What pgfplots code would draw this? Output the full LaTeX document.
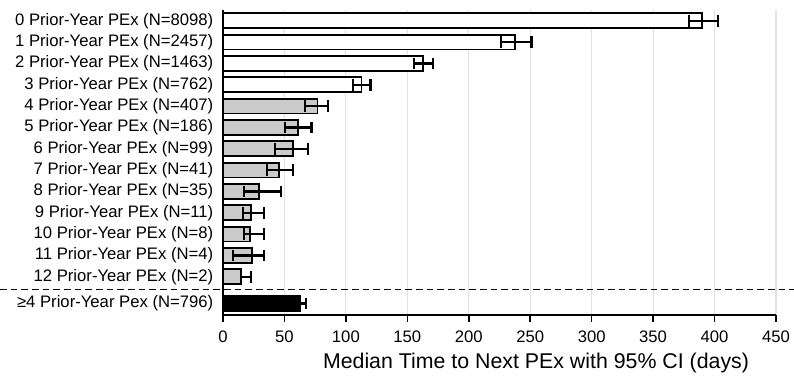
\documentclass[border=0pt]{standalone}
\usepackage{fontspec}
\setmainfont{Liberation Sans}
\usepackage{pgfplots}
\pgfplotsset{compat=1.18}
\definecolor{bargray}{RGB}{202,202,202}
\definecolor{gridgray}{RGB}{225,225,225}
\pgfplotsset{
  ebk/.style={error bars/.cd, x explicit,
    error bar style={line width=1.6pt, black, solid},
    error mark=|,
    error mark options={line width=1.6pt, black, solid, mark size=4.3pt}},
  ebw/.style={error bars/.cd, x explicit,
    error bar style={line width=1.6pt, white, solid},
    error mark=|,
    error mark options={line width=1.6pt, white, solid, mark size=4.3pt}},
}
\begin{document}
\begin{tikzpicture}
\useasboundingbox (-167.25pt,-51.75pt) rectangle (428.25pt,236.25pt);
\begin{axis}[
  scale only axis,
  width=414.75pt, height=228.75pt,
  xmin=0, xmax=450,
  ymin=-0.506, ymax=13.79,
  y dir=reverse,
  axis x line*=bottom, axis y line*=left,
  axis line style={line width=1.4pt},
  xtick={0,50,...,450},
  ytick={0,1,2,3,4,5,6,7,8,9,10,11,12,13.25},
  yticklabels={
    0 Prior-Year PEx (N=8098),
    1 Prior-Year PEx (N=2457),
    2 Prior-Year PEx (N=1463),
    3 Prior-Year PEx (N=762),
    4 Prior-Year PEx (N=407),
    5 Prior-Year PEx (N=186),
    6 Prior-Year PEx (N=99),
    7 Prior-Year PEx (N=41),
    8 Prior-Year PEx (N=35),
    9 Prior-Year PEx (N=11),
    10 Prior-Year PEx (N=8),
    11 Prior-Year PEx (N=4),
    12 Prior-Year PEx (N=2),
    ≥4 Prior-Year Pex (N=796)},
  ytick style={draw=none},
  xtick style={line width=1.2pt, black},
  tick align=outside,
  major tick length=5pt,
  xmajorgrids,
  grid style={gridgray, line width=0.8pt},
  /pgf/number format/assume math mode=true,
  tick label style={font=\fontsize{12.5}{15}\selectfont},
  yticklabel style={xshift=1.2pt},
  xticklabel style={yshift=-3.5pt},
  xlabel={Median Time to Next PEx with 95\% CI (days)},
  xlabel style={font=\fontsize{16}{19}\selectfont, xshift=27.4pt, yshift=-1pt},
  xbar, bar width=0.7, bar shift=0pt,
  clip=false,
]
% white bars
\addplot[xbar, draw=black, line width=1.3pt, fill=white,
  ebk, x dir=both] coordinates {
  (389.5,0) += (13.5,0) -= (10.5,0)
  (237.5,1) += (13.5,0) -= (11.5,0)
  (163,2)   += (7.6,0)  -= (7.6,0)
  (112.8,3) += (7.2,0)  -= (7.3,0)
};
% gray bars
\addplot[xbar, draw=black, line width=1.3pt, fill=bargray,
  ebk, x dir=both] coordinates {
  (76.8,4)  += (8.9,0)  -= (10.1,0)
  (60.8,5)  += (11.2,0) -= (10.4,0)
  (56.7,6)  += (12.7,0) -= (14.4,0)
  (45.8,7)  += (11.4,0) -= (10.3,0)
  (29.5,8)  += (17.4,0) -= (12.2,0)
  (22.8,9)  += (10.8,0) -= (6.8,0)
  (22,10)   += (11.4,0) -= (4.7,0)
  (23.9,11) += (9.5,0)  -= (15.5,0)
};
\addplot[xbar, draw=black, line width=1.3pt, fill=bargray,
  ebk, x dir=plus] coordinates {
  (14.4,12) += (8.4,0) -= (0,0)
};
% black bar: lower part of the CI in white, upper part in black
\addplot[xbar, draw=black, line width=1.3pt, fill=black,
  ebw, x dir=minus] coordinates {
  (62.7,13.25) += (4.6,0) -= (5.5,0)
};
\addplot[xbar, draw=black, line width=1.3pt, fill=black,
  ebk, x dir=plus] coordinates {
  (62.7,13.25) += (4.6,0) -= (5.5,0)
};
\draw[line width=1pt, dash pattern=on 5pt off 3pt]
  (axis cs:-181.4,12.59) -- (axis cs:464.6,12.59);
\end{axis}
\end{tikzpicture}
\end{document}
